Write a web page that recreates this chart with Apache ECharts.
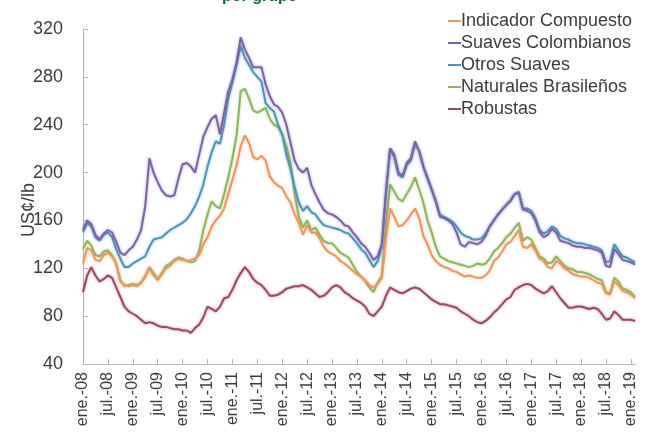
<!DOCTYPE html>
<html>
<head>
<meta charset="utf-8">
<script src="https://cdn.jsdelivr.net/npm/echarts@6/dist/echarts.min.js"></script>
<style>
  html, body { margin: 0; padding: 0; background: #ffffff; }
  #chart { width: 647px; height: 440px; }
</style>
</head>
<body>
<div id="chart"></div>
<script>
// Monthly prices, ene.-2008 .. feb.-2019 (US cents per lb)
const monthNames = ['ene.', 'feb.', 'mar.', 'abr.', 'may.', 'jun.', 'jul.', 'ago.', 'sep.', 'oct.', 'nov.', 'dic.'];
const yearLabels = ['08', '09', '10', '11', '12', '13', '14', '15', '16', '17', '18', '19'];
const monthCount = 134;

const seriesNames = ['Indicador Compuesto', 'Suaves Colombianos', 'Otros Suaves', 'Naturales Brasileños', 'Robustas'];

const indicadorCompuesto = [
  124, 137, 135, 127, 126, 131, 133, 130, 124, 109, 106, 105,
  106, 105, 108, 114, 120, 114, 110, 115, 120, 122, 126, 128,
  127, 126, 127, 128, 131, 140, 146, 155, 160, 164, 170, 182,
  194, 206, 222, 231, 225, 213, 211, 214, 210, 197, 192, 189,
  187, 180, 175, 165, 158, 148, 156, 150, 150, 145, 138, 134,
  132, 130, 126, 124, 121, 118, 115, 113, 110, 106, 104, 107,
  112, 145, 170, 163, 155, 156, 160, 165, 170, 162, 147, 140,
  131, 126, 123, 121, 120, 118, 117, 115, 113, 114, 113, 112,
  112, 114, 118, 126, 129, 134, 140, 142, 147, 152, 138, 137,
  140, 135, 128, 126, 121, 120, 126, 124, 120, 118, 115, 114,
  113, 113, 112, 110, 108, 107, 99, 98, 109, 106, 101, 100,
  98, 95
];

const suavesColombianos = [
  152, 160, 157, 148, 144, 149, 152, 150, 142, 133, 131, 135,
  138, 144, 152, 172, 212, 200, 192, 185, 181, 180, 181, 195,
  207, 208, 205, 200, 215, 230, 238, 245, 248, 232, 250, 268,
  278, 292, 313, 303, 296, 288, 288, 288, 274, 264, 257, 255,
  250, 240, 225, 210, 203, 200, 204, 190, 182, 175, 169, 166,
  165, 163, 160, 156, 155, 150, 146, 141, 138, 133, 127, 130,
  140, 185, 220, 215, 200, 197, 208, 212, 226, 218, 205, 196,
  186, 176, 163, 162, 160, 157, 150, 140, 138, 142, 141, 140,
  142, 147, 155, 160, 165, 169, 173, 176, 182, 183, 169, 168,
  166, 160, 150, 146, 148, 153, 150, 143, 142, 141, 139, 138,
  138, 137, 137, 136, 135, 133, 122, 121, 136, 132, 127, 126,
  125, 123
];

const otrosSuaves = [
  150, 158, 155, 146, 143, 148, 150, 146, 136, 128, 121, 121,
  124, 126, 128, 130, 138, 144, 145, 146, 149, 152, 154, 156,
  158, 161, 166, 172, 180, 190, 205, 217, 226, 224, 240, 262,
  275, 290, 306, 296, 290, 284, 280, 276, 258, 254, 251, 240,
  232, 215, 203, 188, 175, 168, 172, 167, 165, 160, 156, 155,
  154, 153, 152, 150, 149, 145, 141, 136, 133, 127, 121, 126,
  138, 182, 220, 213, 198, 196, 206, 210, 224, 218, 205, 195,
  186, 176, 165, 163, 161, 159, 155, 150, 147, 146, 144, 144,
  145, 149, 155, 160, 165, 169, 173, 177, 182, 184, 170, 170,
  168, 162, 152, 149, 151, 155, 153, 147, 145, 144, 142, 141,
  141, 140, 139, 138, 137, 135, 125, 126, 140, 135, 130, 129,
  127, 125
];

const naturalesBrasilenos = [
  136, 143, 139, 131, 130, 134, 135, 131, 124, 110, 105, 106,
  107, 106, 108, 113, 121, 116, 111, 116, 122, 124, 127, 129,
  128, 126, 125, 126, 135, 152, 165, 176, 172, 170, 182, 196,
  212, 231, 268, 270, 262, 252, 250, 252, 254, 245, 240, 238,
  232, 222, 208, 182, 163, 154, 160, 152, 154, 148, 143, 141,
  141, 137, 133, 131, 129, 123, 117, 113, 109, 104, 100, 108,
  114, 158, 190, 184, 178, 176, 182, 188, 196, 186, 175, 160,
  150, 138, 130, 128, 126, 125, 124, 123, 122, 121, 122, 124,
  123, 124, 128, 134, 137, 141, 146, 149, 154, 158, 143, 146,
  144, 137, 130, 128, 124, 125, 130, 126, 122, 120, 119, 117,
  117, 116, 115, 113, 111, 110, 100, 99, 112, 109, 103, 102,
  100, 96
];

const robustas = [
  100, 114, 121, 114, 109, 111, 114, 112, 104, 96, 88, 84,
  82, 80, 77, 74, 75, 74, 72, 71, 71, 70, 69, 69,
  68, 68, 66, 70, 73, 79, 88, 86, 84, 88, 95, 96,
  102, 110, 116, 121, 117, 111, 108, 106, 102, 97, 97, 98,
  100, 103, 104, 105, 105, 106, 104, 102, 99, 96, 97, 100,
  104, 106, 104, 100, 98, 95, 93, 91, 88, 82, 80, 84,
  88, 97, 104, 102, 100, 99, 101, 103, 104, 103, 100, 97,
  94, 92, 90, 90, 89, 88, 87, 84, 82, 80, 77, 75,
  74, 76, 79, 83, 86, 90, 94, 96, 102, 104, 106, 107,
  106, 103, 101, 99, 101, 105, 100, 95, 91, 87, 87, 88,
  88, 87, 86, 87, 86, 82, 77, 78, 84, 81, 77, 77,
  77, 76
];

const yTicks = { min: 40, max: 320, step: 40 };
const seriesColors = ['#ec9560', '#7a62a6', '#4d93b6', '#8db45a', '#9a4a60'];

// Month category labels such as "ene.-08"
const categories = [];
for (let i = 0; i < monthCount; i++) {
  categories.push(monthNames[i % 12] + '-' + yearLabels[Math.floor(i / 12)]);
}

const values = [indicadorCompuesto, suavesColombianos, otrosSuaves, naturalesBrasilenos, robustas];
const textColor = '#3c3c3c';
const axisColor = '#b4b4b4';
const font = 'Liberation Sans, Arial, sans-serif';

const chart = echarts.init(document.getElementById('chart'), null, { renderer: 'canvas' });

chart.setOption({
  animation: false,
  backgroundColor: '#ffffff',
  title: {
    text: 'por grupo',
    left: 217,
    top: -16,
    textStyle: { color: '#106a2c', fontSize: 16, fontWeight: 'bold', fontFamily: font }
  },
  legend: {
    orient: 'vertical',
    left: 443,
    top: 7,
    itemGap: 4,
    itemWidth: 13,
    itemHeight: 2,
    icon: 'rect',
    data: seriesNames,
    textStyle: { color: textColor, fontSize: 18, fontFamily: font, padding: [0, 0, 0, -5] }
  },
  graphic: [{
    type: 'text',
    x: 29,
    y: 210,
    rotation: Math.PI / 2,
    style: {
      text: 'US¢/lb',
      fill: textColor,
      font: '18px Liberation Sans, Arial, sans-serif',
      textAlign: 'center',
      textVerticalAlign: 'middle'
    }
  }],
  grid: { left: 83, right: 12, top: 29, bottom: 76, containLabel: false },
  xAxis: {
    type: 'category',
    boundaryGap: false,
    data: categories,
    axisLine: { lineStyle: { color: axisColor, width: 1 } },
    axisTick: { show: true, inside: true, length: 5, interval: 5, lineStyle: { color: axisColor } },
    axisLabel: {
      interval: 5,
      rotate: 90,
      margin: 8,
      color: textColor,
      fontSize: 16,
      fontFamily: font
    },
    splitLine: { show: false }
  },
  yAxis: {
    type: 'value',
    min: yTicks.min,
    max: yTicks.max,
    interval: yTicks.step,
    axisLine: { show: true, lineStyle: { color: axisColor, width: 1 } },
    axisTick: { show: true, inside: true, length: 5, lineStyle: { color: axisColor } },
    axisLabel: { color: textColor, fontSize: 18, fontFamily: font, margin: 20 },
    splitLine: { show: false }
  },
  series: seriesNames.map((name, i) => ({
    name: name,
    type: 'line',
    data: values[i],
    symbol: 'none',
    smooth: false,
    color: seriesColors[i],
    lineStyle: {
      width: 2,
      color: seriesColors[i],
      shadowBlur: 3,
      shadowColor: seriesColors[i] + '99'
    },
    z: 5 - i
  }))
});
</script>
</body>
</html>
